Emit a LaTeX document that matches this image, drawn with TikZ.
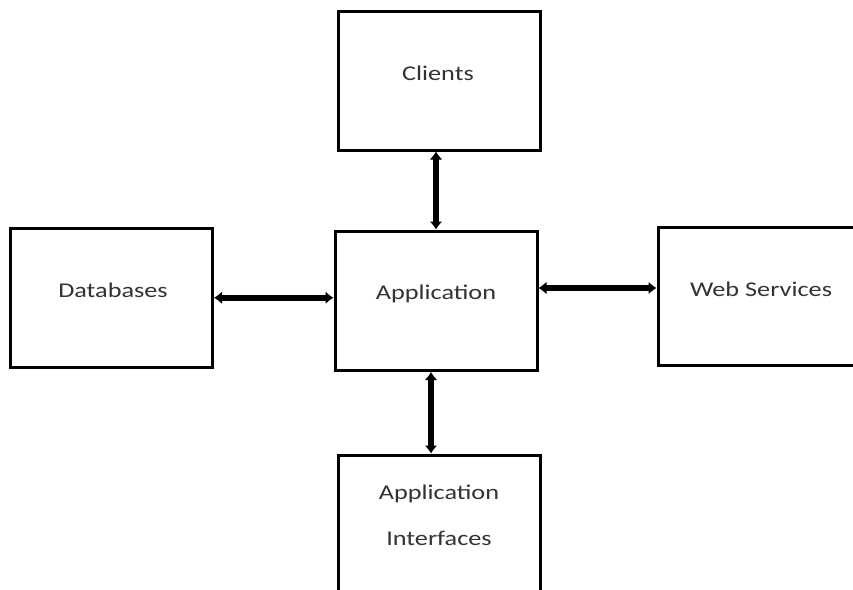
\documentclass[tikz,border=0pt]{standalone}
\usepackage{fontspec}
\setmainfont{Carlito}[FakeStretch=1.25]
\usetikzlibrary{arrows.meta}
\tikzset{
  box/.style={draw=black, line width=3pt, minimum width=202pt, inner sep=0pt, fill=white},
  lbl/.style={anchor=base, inner sep=0pt, text=black!80, font=\fontsize{21}{21}\selectfont},
  link/.style={line width=5.5pt, {Latex[length=8pt,width=13pt]}-{Latex[length=8pt,width=13pt]}}
}
\begin{document}
\begin{tikzpicture}[x=1pt, y=-1pt]
  \useasboundingbox (0,0) rectangle (853,589);
  \clip (0,0) rectangle (853,589);
  \fill[white] (0,0) rectangle (853,589);

  % boxes
  \node[box, minimum height=139pt]   (clients) at (439,80.5)   {};
  \node[box, minimum height=139.5pt] (db)      at (111.5,297.75) {};
  \node[box, minimum height=139.5pt] (app)     at (436,300.75) {};
  \node[box, minimum height=138pt]   (web)     at (759,296)    {};
  \node[box, minimum height=140pt]   (ai)      at (439,525)    {};

  % box captions
  \node[lbl] (clientsT) at (438,80)    {Clients};
  \node[lbl] (dbT)      at (113,297.3) {Databases};
  \node[lbl] (appT)     at (436,299.3) {Application};
  \node[lbl] (webT)     at (761,296)   {Web Services};
  \node[lbl] (aiT1)     at (439,499.3) {Application};
  \node[lbl] (aiT2)     at (439,545)   {Interfaces};

  % connectors
  \draw[link] (app.north) -- (app.north |- clients.south);
  \coordinate (dbA) at ([yshift=3pt]app.west);
  \draw[link] (db.east |- dbA) -- (dbA);
  \coordinate (webA) at ([yshift=8pt]web.west);
  \draw[link] (webA -| app.east) -- (webA);
  \coordinate (aiA) at ([xshift=-5pt]app.south);
  \draw[link] (aiA) -- (aiA |- ai.north);
\end{tikzpicture}
\end{document}
